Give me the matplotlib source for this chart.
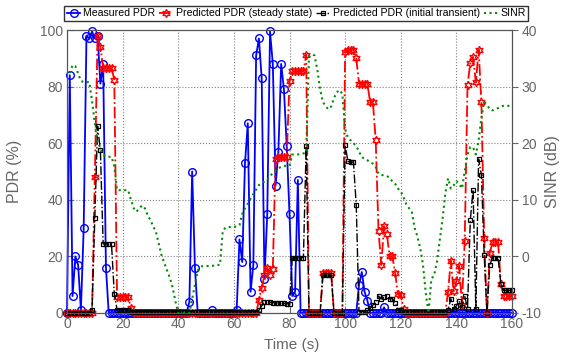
import numpy as np
import matplotlib
matplotlib.use("Agg")
import matplotlib.pyplot as plt

# time axis (one sample per second)
time_s = list(range(0, 161))

measured_pdr = [
    0, 84, 6, 20, 17, 1, 30, 98, 97, 99.5,
    97, 98, 81, 88, 16, 0, 0, 0, 0, 0,
    0, 0, 0, 0, 0, 0, 0, 0, 0, 0,
    0, 0, 0, 0, 0, 0, 0, 0, 0, 0,
    0, 0, 0, 0, 4, 50, 16, 0, 0, 0,
    0, 0, 1, 0, 0, 0, 0, 0, 0, 0,
    0, 1, 26, 18, 53, 67, 7.5, 17, 91, 97,
    83, 12, 35, 99.5, 88, 45, 57, 88, 79, 59,
    35, 6, 7.5, 47, 0, 0, 0, 0, 0, 0,
    0, 0, 0, 0, 0, 0, 0, 0, 0, 0,
    0, 0, 0, 0, 0, 10, 14.5, 7.5, 4.4, 0,
    0, 0, 0, 0, 2, 0, 0, 0, 0, 0,
    0, 0, 0, 0, 0, 0, 0, 0, 0, 0,
    0, 0, 0, 0, 0, 0, 0, 0, 0, 0,
    0, 0, 0, 0, 0, 0, 0, 0, 0, 0,
    0, 0, 0, 0, 0, 0, 0, 0, 0, 0,
    0,
]

pred_steady = [
    0, 0, 0, 0, 0, 0, 0, 0, 0, 0,
    48, 98, 94, 86.5, 86.5, 86.5, 86.5, 82.5, 5.7, 5.7,
    5.7, 5.7, 5.5, 1.8, 0, 0, 0, 0, 0, 0,
    0, 0, 0, 0, 0, 0, 0, 0, 0, 0,
    0, 0, 0, 0, 0, 0, 0, 0, 0, 0,
    0, 0, 0, 0, 0, 0, 0, 0, 0, 0,
    0, 0, 0, 0, 0, 0, 0, 0, 0, 4.5,
    9, 13.4, 16, 13.4, 15.7, 54.5, 55, 55, 55, 55,
    82, 85.4, 85.4, 85.4, 85.4, 85.4, 91.3, 0, 0, 0,
    0, 0, 14, 14, 14, 14, 0, 0, 0, 0,
    92.3, 93, 93, 93, 90, 81, 81, 81, 81, 74.4,
    74.4, 61, 29, 17, 30.7, 27.8, 20, 20, 14, 6.6,
    6.5, 1.4, 0, 0, 0, 0, 0, 0, 0, 0,
    0, 0, 0, 0, 0, 0, 0, 7.4, 18.5, 7.6,
    11.2, 16.7, 3, 25.6, 80.4, 88.3, 90.5, 81.5, 93.1, 74.4,
    26.6, 0, 21.2, 25, 25, 25, 10.4, 6, 6, 6,
    6,
]

pred_transient = [
    0, 0, 0, 0, 0, 0, 0, 0, 0, 1.2,
    33.6, 66, 57.5, 24.4, 24.4, 24.4, 24.4, 6.8, 1.2, 1.2,
    1.2, 1.2, 1.0, 0.5, 0.5, 0.5, 0.5, 0.5, 0.5, 0.5,
    0.5, 0.5, 0.5, 0.5, 0.5, 0.5, 0.5, 0.5, 0.5, 0.5,
    0.5, 0.5, 0.5, 0.5, 0.5, 0.5, 0.5, 0.5, 0.5, 0.5,
    0.5, 0.5, 0.5, 0.5, 0.5, 0.5, 0.5, 0.5, 0.5, 0.5,
    0.5, 0.5, 0.5, 0.5, 0.5, 0.5, 0.5, 0.5, 0.5, 1,
    2.5, 4, 4, 3.8, 3.7, 3.6, 3.5, 3.4, 3.4, 3.3,
    3.2, 19.6, 19.6, 19.6, 19.6, 19.6, 59, 0, 0, 0,
    0, 0, 13.3, 13.3, 13.3, 13.3, 0, 0, 0, 0,
    59.3, 53.6, 53.3, 53.3, 38, 0.5, 0.5, 0.5, 1, 1.6,
    2.8, 4, 6, 5, 5.6, 6, 5, 5, 3.6, 1.2,
    1.2, 0.5, 0.5, 0.5, 0.5, 0.5, 0.5, 0.5, 0.5, 0.5,
    0.5, 0.5, 0.5, 0.5, 0.5, 0.5, 0.5, 1, 5, 1.5,
    2.5, 4.2, 2, 6, 1.5, 32.7, 43.5, 1.5, 54.4, 48.8,
    20.5, 0, 17, 19.6, 19.6, 19.6, 10.4, 8, 8, 8,
    8,
]

sinr_db = [
    np.nan, 32.4, 33.8, 33.6, 32.3, 31, 30.8, 30.8, 30.8, 27.5,
    23.5, 20.5, 19, 18, 17.6, 17.6, 17.6, 16, 11.7, 11.7,
    11.7, 11.7, 11.7, 10, 8.5, 7.9, 8.5, 9, 8.5, 7.3,
    6.4, 5.3, 4.3, 2.2, 0.2, -1.2, -2.5, -3.8, -5.5, -8,
    -10, -10, -10, -10, -10, -7.5, -5, -2.5, -1.8, -1.7,
    -1.7, -1.7, -1.7, -1.6, -1.5, -1.5, 4.5, 5.1, 5.2, 5.2,
    5.2, 5.3, 5.5, 7.5, 8.5, 9.3, 10.2, 11, 11.8, 12.6,
    13, 13.2, 13.5, 14.2, 14.7, 15.2, 15.6, 15.8, 16, 16,
    16, 18, 18, 18, 18.1, 18.2, 18.3, 35.3, 35.7, 35.5,
    33, 29.5, 27.3, 26.5, 26, 26.5, 28, 29, 29.4, 28.7,
    22.5, 21, 20.5, 20, 19.5, 18.5, 17.5, 17.3, 17, 16.6,
    16.4, 15.8, 14.6, 14.4, 14.3, 14.2, 13.9, 13.2, 12.8, 12,
    11.5, 10.5, 9.2, 8.5, 7.8, 5, 3.5, 1.5, -1.5, -6.5,
    -10, -4, -3.3, -1, 2.8, 6.5, 11, 13.8, 12, 12.5,
    13.3, 12.8, 12, 15, 18, 19.3, 19.3, 18, 20.5, 24.5,
    27.3, 26.8, 26, 25.8, 26, 26.2, 26.5, 26.6, 26.6, 26.6,
    26.6,
]

x_ticks = [0, 20, 40, 60, 80, 100, 120, 140, 160]
pdr_ticks = [0, 20, 40, 60, 80, 100]
sinr_ticks = [-10, 0, 10, 20, 30, 40]


def main() -> None:
    plt.rcParams["font.family"] = ["Liberation Sans", "DejaVu Sans"]
    plt.rcParams["axes.unicode_minus"] = False
    label_gray = "#666666"

    fig = plt.figure(figsize=(5.62, 3.53), dpi=100)
    ax = fig.add_axes([67 / 562, 1 - 313 / 353, 445 / 562, 283 / 353])
    ax2 = ax.twinx()

    ax.plot(time_s, measured_pdr, color="blue", lw=1.3, marker="o", ms=5.5,
            mfc="none", mew=1.0, label="Measured PDR", clip_on=False)
    ax.plot(time_s, pred_steady, color="red", ls="-.", lw=1.3,
            marker=(6, 1, 0), ms=6, mfc="none", mew=1.0,
            label="Predicted PDR (steady state)", clip_on=False)
    ax.plot(time_s, pred_transient, color="black", ls="-.", lw=1.0,
            marker="s", ms=3.5, mfc="none", mew=0.9,
            label="Predicted PDR (initial transient)", clip_on=False)
    ax2.plot(time_s, sinr_db, color=(0, 0.55, 0), ls=":", lw=1.5,
             label="SINR")

    ax.set_xlim(0, 160)
    ax.set_ylim(0, 100)
    ax2.set_ylim(-10, 40)
    ax.set_xticks(x_ticks)
    ax.set_yticks(pdr_ticks)
    ax2.set_yticks(sinr_ticks)

    ax.grid(True, ls=":", color="gray", lw=0.8)
    ax.set_axisbelow(True)

    for a in (ax, ax2):
        for sp in a.spines.values():
            sp.set_color("#555555")
        a.tick_params(labelsize=10, colors=label_gray, length=4, pad=3)
    ax.tick_params(direction="in")
    ax2.tick_params(direction="out")

    ax.set_xlabel("Time (s)", fontsize=11, color=label_gray)
    ax.set_ylabel("PDR (%)", fontsize=11.5, color=label_gray)
    ax2.set_ylabel("SINR (dB)", fontsize=11.5, color=label_gray)
    ax.xaxis.set_label_coords(0.505, -0.09)
    ax.yaxis.set_label_coords(-0.1, 0.5)
    ax2.yaxis.set_label_coords(1.075, 0.5)

    handles = ax.get_lines() + ax2.get_lines()
    labels = [h.get_label() for h in handles]
    leg = ax2.legend(handles, labels, ncol=4, loc="lower center",
                     bbox_to_anchor=(0.515, 1.032),
                     fontsize=7.6, handlelength=1.3,
                     handletextpad=0.25, columnspacing=0.4, borderpad=0.25,
                     borderaxespad=0, frameon=True, fancybox=False)
    leg.get_frame().set_edgecolor("black")
    leg.get_frame().set_linewidth(1.0)

    fig.savefig("out.png", dpi=100)


if __name__ == "__main__":
    main()
